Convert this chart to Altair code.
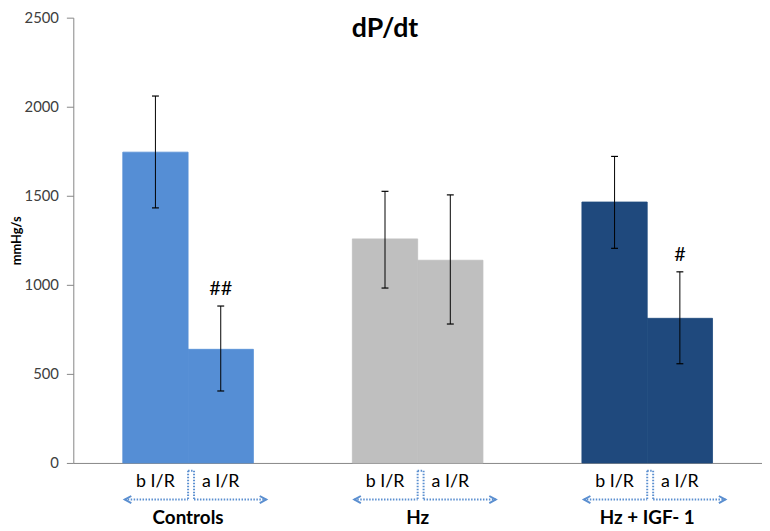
import altair as alt
import pandas as pd

# ---- data ----
groups = ["Controls", "Hz", "Hz + IGF- 1"]
conditions = ["b I/R", "a I/R"]
means = [1745, 638, 1258, 1138, 1465, 812]
err_lo = [1432, 404, 982, 780, 1205, 557]
err_hi = [2060, 881, 1525, 1505, 1721, 1073]
flags = ["", "##", "", "", "", "#"]
group_colors = ["#558ED5", "#BFBFBF", "#1F497D"]
y_ticks = [0, 500, 1000, 1500, 2000, 2500]

# ---- layout constants ----
W, H = 696, 450
PX = len(groups) / W          # one pixel in x data units
BAR_W = 66 * PX
FONT = "Lato"
ARROW = "#5B8FD0"
Y_LOW, Y_HIGH = H + 37, H + 8

rows = []
for gi, g in enumerate(groups):
    c = gi + 0.5
    for ci, cond in enumerate(conditions):
        k = gi * 2 + ci
        x0 = c - BAR_W if ci == 0 else c
        x1 = c if ci == 0 else c + BAR_W
        mid = (x0 + x1) / 2
        rows.append(dict(group=g, cond=cond, mean=means[k], lo=err_lo[k], hi=err_hi[k],
                         flag=flags[k], x0=x0, x1=x1, mid=mid,
                         cap0=mid - 3.5 * PX, cap1=mid + 3.5 * PX, center=c))
df = pd.DataFrame(rows)
gdf = df.drop_duplicates("group")[["group", "center"]].reset_index(drop=True)

# dotted bracket arrows under each group (built from group centres)
low_segs, top_segs, vert_segs, heads = [], [], [], []
for _, r in gdf.iterrows():
    c = r["center"]
    lt, lc, rc, rt = c - 64 * PX, c, c + 6 * PX, c + 79 * PX
    low_segs += [dict(x=lt, x2=lc), dict(x=rc, x2=rt)]
    top_segs += [dict(x=lc, x2=rc)]
    vert_segs += [dict(x=lc), dict(x=rc)]
    heads += [dict(x=lt, side="L"), dict(x=rt, side="R")]

xs = alt.Scale(domain=[0, len(groups)], nice=False, zero=False)
ys = alt.Scale(domain=[0, 2500], nice=False)
x_axis = alt.Axis(labels=False, ticks=False, grid=False, title=None,
                  domainColor="#868686", domainWidth=1)
y_axis = alt.Axis(values=y_ticks, format="d", grid=False, tickSize=7, tickColor="#868686",
                  domainColor="#868686", labelColor="#404040", labelFont=FONT, labelFontSize=15,
                  labelPadding=8, title="mmHg/s", titleFont=FONT, titleFontSize=13,
                  titleFontWeight="bold", titleColor="#000000", titlePadding=1)


def X(field):
    return alt.X(field, scale=xs, axis=x_axis, title=None)


def Y(field):
    return alt.Y(field, scale=ys, axis=y_axis, title="mmHg/s")


base = alt.Chart(df)
color_enc = alt.Color("group:N", scale=alt.Scale(domain=groups, range=group_colors), legend=None)

bars = base.mark_bar(strokeWidth=0.8).encode(
    x=X("x0:Q"), x2="x1:Q", y=Y("mean:Q"), y2=alt.datum(0),
    color=color_enc, stroke=color_enc,
)

err = base.mark_rule(color="#000000", strokeWidth=1).encode(x=X("mid:Q"), y=Y("lo:Q"), y2="hi:Q")
cap_hi = base.mark_rule(color="#000000", strokeWidth=1.2).encode(x=X("cap0:Q"), x2="cap1:Q", y=Y("hi:Q"))
cap_lo = base.mark_rule(color="#000000", strokeWidth=1.2).encode(x=X("cap0:Q"), x2="cap1:Q", y=Y("lo:Q"))

flag_txt = base.mark_text(font=FONT, fontSize=20, baseline="bottom", dy=-7, color="#000000").encode(
    x=X("mid:Q"), y=Y("hi:Q"), text="flag:N")

cond_txt = base.mark_text(font=FONT, fontSize=18, baseline="middle", color="#000000").encode(
    x=X("mid:Q"), y=alt.value(H + 19), text="cond:N")

group_txt = alt.Chart(gdf).mark_text(font=FONT, fontSize=19, fontWeight="bold",
                                     baseline="middle", color="#000000").encode(
    x=X("center:Q"), y=alt.value(H + 56), text="group:N")

dash = dict(color=ARROW, strokeWidth=2, strokeDash=[1.5, 1.5])
low_marks = alt.Chart(pd.DataFrame(low_segs)).mark_rule(**dash).encode(
    x=X("x:Q"), x2="x2:Q", y=alt.value(Y_LOW))
top_marks = alt.Chart(pd.DataFrame(top_segs)).mark_rule(**dash).encode(
    x=X("x:Q"), x2="x2:Q", y=alt.value(Y_HIGH))
vert_marks = alt.Chart(pd.DataFrame(vert_segs)).mark_rule(**dash).encode(
    x=X("x:Q"), y=alt.value(Y_HIGH), y2=alt.value(Y_LOW))

hdf = pd.DataFrame(heads)
left_heads = alt.Chart(hdf).transform_filter(alt.datum.side == "L").mark_point(
    shape="M 1.1 -0.6 L 0 0 L 1.1 0.6", filled=False, stroke=ARROW, strokeWidth=2, size=144,
    opacity=1).encode(x=X("x:Q"), y=alt.value(Y_LOW))
right_heads = alt.Chart(hdf).transform_filter(alt.datum.side == "R").mark_point(
    shape="M -1.1 -0.6 L 0 0 L -1.1 0.6", filled=False, stroke=ARROW, strokeWidth=2, size=144,
    opacity=1).encode(x=X("x:Q"), y=alt.value(Y_LOW))

chart = alt.layer(
    bars, err, cap_hi, cap_lo, flag_txt, cond_txt, group_txt,
    low_marks, top_marks, vert_marks, left_heads, right_heads
).properties(
    width=W, height=H,
    title=alt.TitleParams("dP/dt", font=FONT, fontSize=27, fontWeight="bold", color="#000000",
                          anchor="middle", dx=-33, dy=37),
    autosize=alt.AutoSizeParams(type="none"),
    padding={"left": 66, "top": 7, "right": 0, "bottom": 66},
).configure_view(stroke=None)

chart.save("out.html", embed_options={"renderer": "svg", "actions": False})
